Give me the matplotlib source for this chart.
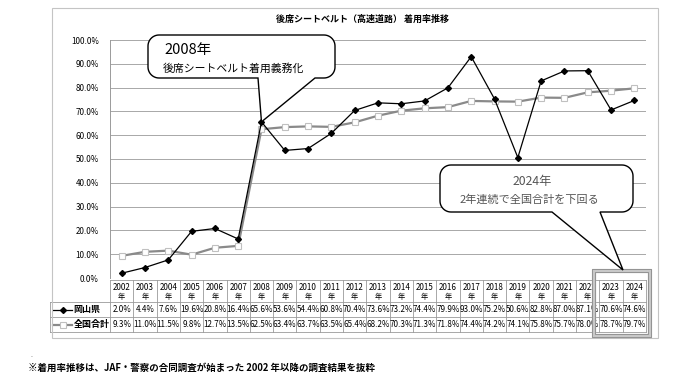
import matplotlib
matplotlib.use("Agg")
import matplotlib.pyplot as plt
import numpy as np
from matplotlib.path import Path
from matplotlib.patches import PathPatch, Rectangle
from matplotlib.lines import Line2D
from matplotlib.transforms import Affine2D

plt.rcParams['font.family'] = ['Noto Sans CJK JP', 'DejaVu Sans']

years = list(range(2002, 2025))
okayama = [2.0, 4.4, 7.6, 19.6, 20.8, 16.4, 65.6, 53.6, 54.4, 60.8, 70.4, 73.6,
           73.2, 74.4, 79.9, 93.0, 75.2, 50.6, 82.8, 87.0, 87.1, 70.6, 74.6]
national = [9.3, 11.0, 11.5, 9.8, 12.7, 13.5, 62.5, 63.4, 63.7, 63.5, 65.4, 68.2,
            70.3, 71.3, 71.8, 74.4, 74.2, 74.1, 75.8, 75.7, 78.0, 78.7, 79.7]
series_names = ['岡山県', '全国合計']
title = '後席シートベルト（高速道路） 着用率推移'

W, H = 680, 382
fig = plt.figure(figsize=(W / 100, H / 100), dpi=100)
# pixel coords, y pointing down
px = Affine2D().scale(1 / W, -1 / H).translate(0, 1) + fig.transFigure

grid_c = '#9a9a9a'
n = len(years)

# --- main plot
ax = fig.add_axes([110 / W, 1 - 278 / H, 536 / W, 238 / H])
ax.set_xlim(-0.5, n - 0.5)
ax.set_ylim(0, 100)
ax.set_yticks(range(0, 101, 10))
ax.set_yticklabels([f'{v:.1f}%' for v in range(0, 101, 10)], fontsize=5.8)
ax.tick_params(axis='y', length=0, pad=8)
ax.set_xticks([])
ax.yaxis.grid(True, color=grid_c, lw=0.6)
ax.set_axisbelow(True)
for s in ['top', 'right', 'bottom']:
    ax.spines[s].set_visible(False)
ax.spines['left'].set_color(grid_c)
ax.spines['left'].set_linewidth(0.7)

x = np.arange(n)
ax.plot(x, national, color='#8a8a8a', lw=1.6, marker='s', ms=4.5,
        mfc='white', mec='#c0c0c0', mew=0.8, zorder=3)
ax.plot(x, okayama, color='black', lw=0.9, marker='D', ms=3, zorder=4)

# --- data table
tax = fig.add_axes([110 / W, 1 - 332 / H, 536 / W, 52 / H])
tax.set_xlim(-0.5, n - 0.5)
tax.set_ylim(52, 0)
tax.axis('off')
colw = 536 / n
xl = -0.5 - 60 / colw
kw = dict(color=grid_c, lw=0.6, clip_on=False)
for i in range(n + 1):
    tax.plot([i - 0.5, i - 0.5], [0, 52], **kw)
tax.plot([-0.5, n - 0.5], [0, 0], **kw)
for yy in (22, 37, 52):
    tax.plot([xl, n - 0.5], [yy, yy], **kw)
tax.plot([xl, xl], [22, 52], **kw)

for i, yr in enumerate(years):
    tax.text(i, 7, str(yr), ha='center', va='center', fontsize=5.8)
    tax.text(i, 16.5, '年', ha='center', va='center', fontsize=5.2)
    tax.text(i, 29.5, f'{okayama[i]:.1f}%', ha='center', va='center', fontsize=5.8)
    tax.text(i, 44.5, f'{national[i]:.1f}%', ha='center', va='center', fontsize=5.8)

# legend cells
tax.add_line(Line2D([xl + 0.13, xl + 0.95], [29.5, 29.5], color='black', lw=0.9, clip_on=False))
tax.plot([xl + 0.54], [29.5], marker='D', ms=3, color='black', clip_on=False)
tax.add_line(Line2D([xl + 0.13, xl + 0.95], [44.5, 44.5], color='#8a8a8a', lw=1.6, clip_on=False))
tax.plot([xl + 0.54], [44.5], marker='s', ms=4.5, mfc='white', mec='#c0c0c0',
         mew=0.8, clip_on=False)
tax.text(xl + 1.02, 29.5, series_names[0], ha='left', va='center',
         fontsize=6.5, fontweight='bold')
tax.text(xl + 1.02, 44.5, series_names[1], ha='left', va='center',
         fontsize=6.5, fontweight='bold')

# highlight around last two years
for inset, lw, c in ((0, 0.8, '#8a8a8a'), (1.6, 2.4, '#c8c8c8'), (3.2, 0.6, '#8a8a8a')):
    fig.add_artist(Rectangle((592 + inset, 269 + inset), 59 - 2 * inset, 68 - 2 * inset,
                             fill=False, ec=c, lw=lw, transform=px, zorder=5))

# chart frame
fig.add_artist(Rectangle((52, 8), 606, 330, fill=False, ec='#c4c4c4', lw=0.8,
                         transform=px, zorder=0.5))

fig.text(362 / W, 1 - 19 / H, title, ha='center', va='center',
         fontsize=6.5, fontweight='bold')


def callout(x0, y0, x1, y1, r, b0, b1, tip):
    pts = []
    def arc(cx, cy, a0, a1):
        for a in np.linspace(a0, a1, 12):
            pts.append((cx + r * np.cos(a), cy + r * np.sin(a)))
    arc(x0 + r, y0 + r, np.pi, 1.5 * np.pi)
    arc(x1 - r, y0 + r, 1.5 * np.pi, 2 * np.pi)
    arc(x1 - r, y1 - r, 0, 0.5 * np.pi)
    pts += [(b1, y1), tip, (b0, y1)]
    arc(x0 + r, y1 - r, 0.5 * np.pi, np.pi)
    pts.append(pts[0])
    p = PathPatch(Path(pts, closed=True), fc='white', ec='black', lw=1.0,
                  transform=px, zorder=6)
    fig.add_artist(p)


dx, dy = ax.transData.transform((years.index(2008), okayama[years.index(2008)]))
callout(148, 35, 335, 78, 11, 258, 315, (dx, H - dy))
fig.text(164 / W, 1 - 50 / H, '2008年', ha='left', va='center', fontsize=10.5, zorder=7)
fig.text(163 / W, 1 - 68 / H, '後席シートベルト着用義務化', ha='left', va='center',
         fontsize=7.8, zorder=7)

callout(440, 165, 633, 212, 11, 552, 600, (623, 270))
fig.text(532 / W, 1 - 182 / H, '2024年', ha='center', va='center', fontsize=8.8,
         color='#555555', zorder=7)
fig.text(529 / W, 1 - 200 / H, '2年連続で全国合計を下回る', ha='center', va='center',
         fontsize=8, color='#555555', zorder=7)

fig.text(30 / W, 1 - 357 / H, '.', fontsize=5, color='#777777')
fig.text(28 / W, 1 - 368 / H,
         '※着用率推移は、JAF・警察の合同調査が始まった 2002 年以降の調査結果を抜粋',
         ha='left', va='center', fontsize=6.8, fontweight='bold')

fig.savefig('out.png', dpi=100)
